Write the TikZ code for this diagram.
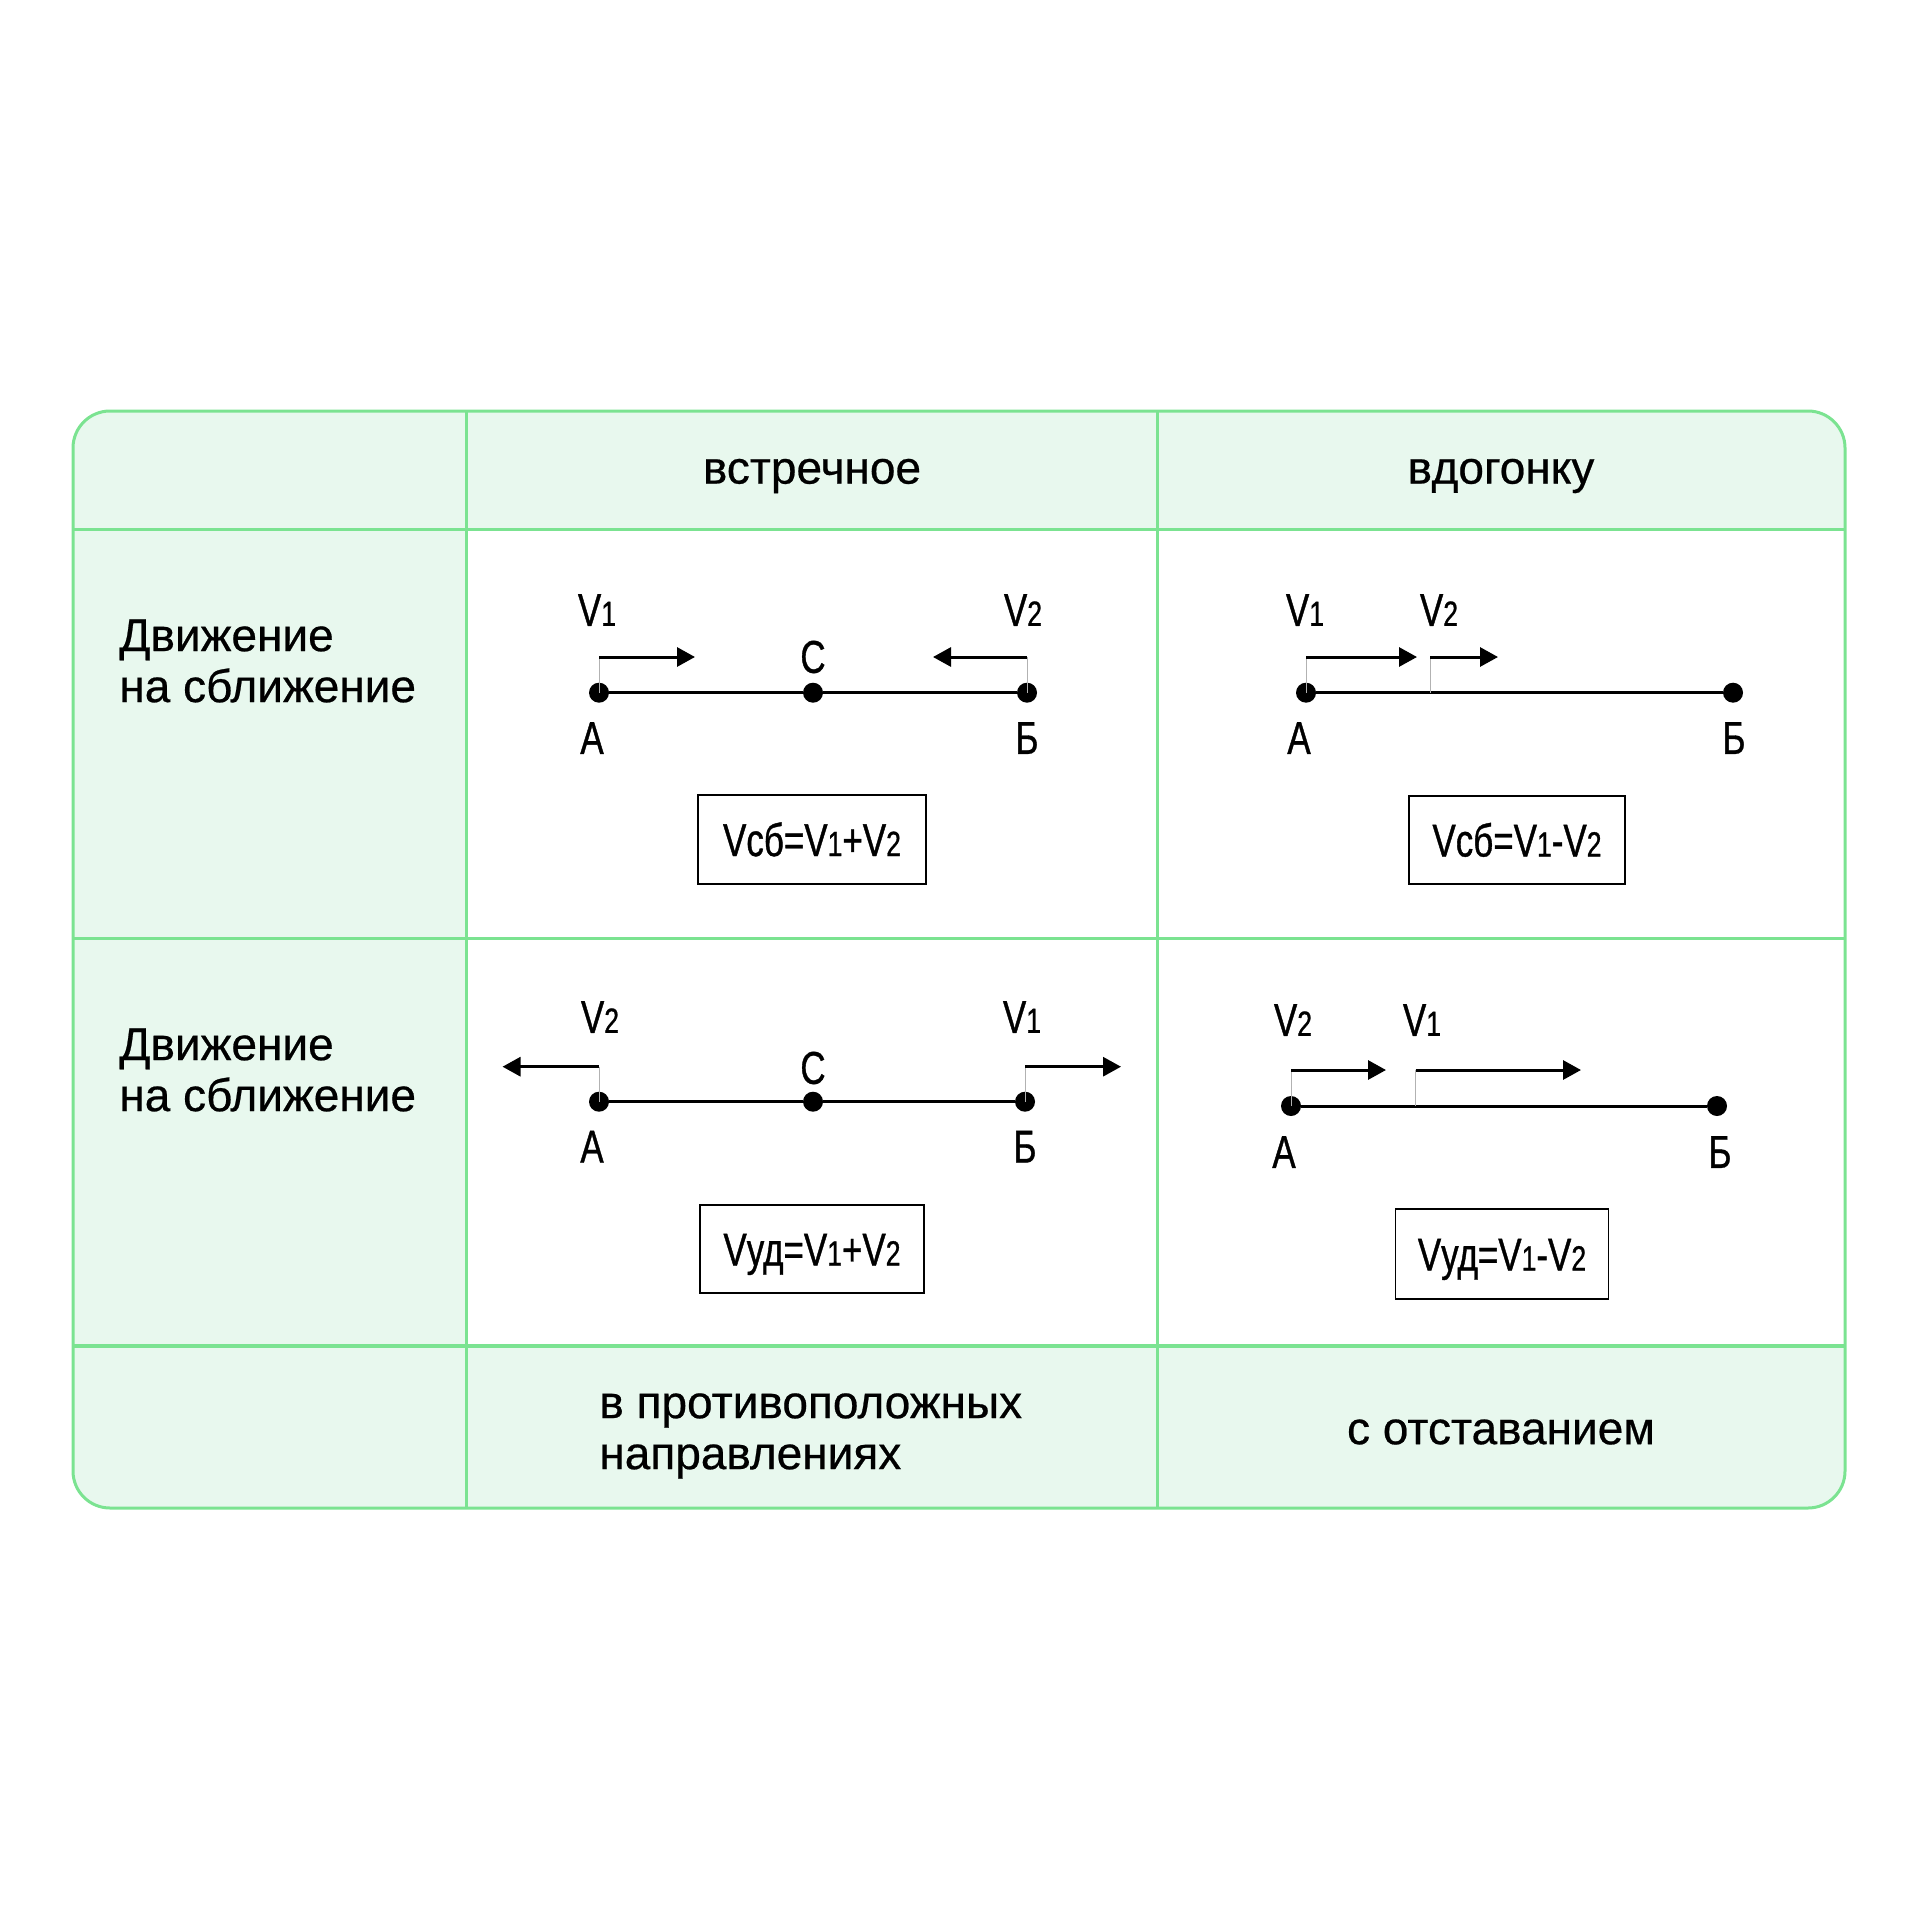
\documentclass[tikz,border=0pt]{standalone}
\usepackage{fontspec}
\setmainfont{Liberation Sans}
\newfontfamily\hdfont[FakeBold=0.5]{Liberation Sans}
\newfontfamily\condfont[FakeStretch=0.76,FakeBold=0.8]{Liberation Sans}
\usetikzlibrary{arrows.meta}
\definecolor{tline}{RGB}{123,227,145}
\definecolor{tfill}{RGB}{232,248,238}
\newcommand\smd[1]{{\fontsize{17.5}{17.5}\selectfont #1}}
\begin{document}
\begin{tikzpicture}[x=0.5pt,y=-0.5pt,
  hd/.style={font=\hdfont\fontsize{23}{25.5}\selectfont, inner sep=0pt},
  lbl/.style={font=\condfont\fontsize{23}{23}\selectfont, inner sep=0pt},
  dot/.style={circle, fill=black, minimum size=10pt, inner sep=0pt},
  seg/.style={line width=1.5pt},
  vec/.style={line width=1.5pt, -{Triangle[length=9pt,width=9.5pt]}},
  tick/.style={line width=0.5pt, draw=gray!60},
  fbox/.style={draw, line width=0.75pt, font=\condfont\fontsize{23}{23}\selectfont, inner sep=0pt, text height=16.5pt, text depth=0pt},
  grid/.style={draw=tline, line width=1.5pt}]
\useasboundingbox (0,0) rectangle (1920,1920);
% ---- table fills
\begin{scope}
  \clip[rounded corners=18.5pt] (73,411) rectangle (1845,1508);
  \fill[tfill] (73,411) rectangle (1845,529);
  \fill[tfill] (73,411) rectangle (466.5,1508);
  \fill[tfill] (73,1346) rectangle (1845,1508);
\end{scope}
% ---- table lines
\draw[grid, rounded corners=18.5pt] (73,411) rectangle (1845,1508);
\draw[grid] (73,529) -- (1845,529);
\draw[grid] (73,938) -- (1845,938);
\draw[grid, line width=2pt] (73,1346) -- (1845,1346);
\draw[grid] (466.5,411) -- (466.5,1508);
\draw[grid] (1157,411) -- (1157,1508);
% ---- headings
\node[hd] (h1) at (812,476) {встречное};
\node[hd] (h2) at (1501,476) {вдогонку};
\node[hd, anchor=west, align=left] (r1) at (119,661) {Движение\\на сближение};
\node[hd, anchor=west, align=left] (r2) at (119,1070) {Движение\\на сближение};
\node[hd, anchor=west, align=left] (f1) at (599,1436) {в противоположных\\направлениях};
\node[hd] (f2) at (1501,1432) {с отставанием};
% ---- diagram 1 (top middle)
\node[dot] (a1) at (599,692.7) {};
\node[dot] (c1) at (813,692.7) {};
\node[dot] (b1) at (1027,692.7) {};
\draw[seg] (a1) -- (c1) -- (b1);
\coordinate (a1v) at (599,657);
\coordinate (a1t) at (695,657);
\coordinate (b1v) at (1027,657);
\coordinate (b1t) at (933,657);
\draw[tick] (a1.center) -- (a1v);
\draw[tick] (b1.center) -- (b1v);
\draw[vec] (a1v) -- (a1t);
\draw[vec] (b1v) -- (b1t);
\node[lbl] (v11) at (597,610) {V\smd{1}};
\node[lbl] (v21) at (1023,610) {V\smd{2}};
\node[lbl] (cl1) at (813,657) {С};
\node[lbl] (al1) at (592,738) {А};
\node[lbl] (bl1) at (1027,738) {Б};
\node[fbox, minimum width=114pt, minimum height=44.5pt] (fm1) at (812,839.5) {Vсб=V\smd{1}+V\smd{2}};
% ---- diagram 2 (top right)
\node[dot] (a2) at (1306,692.7) {};
\node[dot] (b2) at (1733,692.7) {};
\draw[seg] (a2) -- (b2);
\coordinate (a2v) at (1306,657);
\coordinate (a2t) at (1417,657);
\coordinate (m2) at (1430,692.7);
\coordinate (m2v) at (1430,657);
\coordinate (m2t) at (1498,657);
\draw[tick] (a2.center) -- (a2v);
\draw[tick] (m2) -- (m2v);
\draw[vec] (a2v) -- (a2t);
\draw[vec] (m2v) -- (m2t);
\node[lbl] (v12) at (1305,610) {V\smd{1}};
\node[lbl] (v22) at (1439,610) {V\smd{2}};
\node[lbl] (al2) at (1299,738) {А};
\node[lbl] (bl2) at (1734,738) {Б};
\node[fbox, minimum width=108pt, minimum height=44pt] (fm2) at (1517,840) {Vсб=V\smd{1}-V\smd{2}};
% ---- diagram 3 (bottom middle)
\node[dot] (a3) at (599,1101.7) {};
\node[dot] (c3) at (813,1101.7) {};
\node[dot] (b3) at (1025,1101.7) {};
\draw[seg] (a3) -- (c3) -- (b3);
\coordinate (a3v) at (599,1066.7);
\coordinate (a3t) at (502.5,1066.7);
\coordinate (b3v) at (1025,1066.7);
\coordinate (b3t) at (1121,1066.7);
\draw[tick] (a3.center) -- (a3v);
\draw[tick] (b3.center) -- (b3v);
\draw[vec] (a3v) -- (a3t);
\draw[vec] (b3v) -- (b3t);
\node[lbl] (v23) at (600,1017) {V\smd{2}};
\node[lbl] (v13) at (1022,1017) {V\smd{1}};
\node[lbl] (cl3) at (813,1068) {С};
\node[lbl] (al3) at (592,1146.7) {А};
\node[lbl] (bl3) at (1025,1146.7) {Б};
\node[fbox, minimum width=112pt, minimum height=44pt] (fm3) at (812,1249) {Vуд=V\smd{1}+V\smd{2}};
% ---- diagram 4 (bottom right)
\node[dot] (a4) at (1291,1106) {};
\node[dot] (b4) at (1717,1106) {};
\draw[seg] (a4) -- (b4);
\coordinate (a4v) at (1291,1070);
\coordinate (a4t) at (1386,1070);
\coordinate (m4) at (1415.6,1106);
\coordinate (m4v) at (1415.6,1070);
\coordinate (m4t) at (1581,1070);
\draw[tick] (a4.center) -- (a4v);
\draw[tick] (m4) -- (m4v);
\draw[vec] (a4v) -- (a4t);
\draw[vec] (m4v) -- (m4t);
\node[lbl] (v24) at (1293,1020) {V\smd{2}};
\node[lbl] (v14) at (1422,1020) {V\smd{1}};
\node[lbl] (al4) at (1284,1152) {А};
\node[lbl] (bl4) at (1720,1152) {Б};
\node[fbox, minimum width=106.5pt, minimum height=45pt] (fm4) at (1502,1254) {Vуд=V\smd{1}-V\smd{2}};
\end{tikzpicture}
\end{document}
